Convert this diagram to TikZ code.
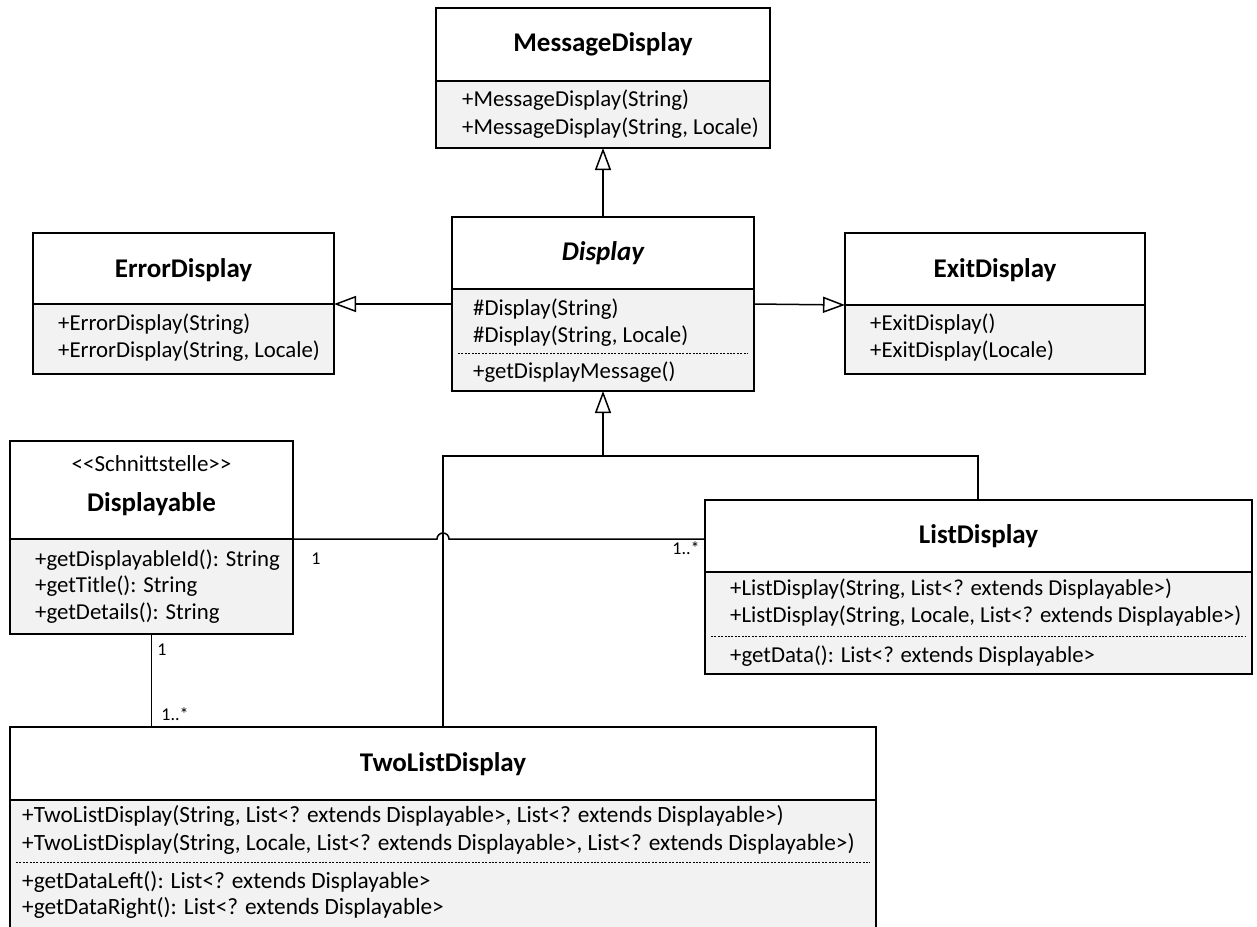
\documentclass[tikz,border=0pt]{standalone}
\usepackage{fontspec}
\setmainfont{Carlito}
\usetikzlibrary{arrows.meta}
\definecolor{boxgray}{RGB}{242,242,242}
\tikzset{
  lw/.style={line width=1.5pt},
  hdr/.style={draw, lw, fill=white, anchor=north west, inner sep=0pt, outer sep=0pt},
  bdy/.style={draw, lw, fill=boxgray, anchor=north west, inner sep=0pt, outer sep=0pt},
  ttl/.style={font=\bfseries\fontsize{27}{31}\selectfont, inner sep=0pt},
  mem/.style={anchor=west, font=\fontsize{22.8}{26}\selectfont, inner sep=0pt, text height=16pt, text depth=5pt},
  wmem/.style={mem, font=\fontsize{23.3}{26}\selectfont},
  mult/.style={font=\fontsize{18}{20}\selectfont, inner sep=0pt},
  sepline/.style={line width=1pt, dash pattern=on 2pt off 1.4pt},
  gen/.style={lw, -{Triangle[open, length=22pt, width=16pt, line width=1.5pt]}},
  assoc/.style={lw}
}
\begin{document}
\begin{tikzpicture}[x=1pt, y=-1pt]
\useasboundingbox (0,0) rectangle (1257,926);
\clip (0,0) rectangle (1257,926);

% MessageDisplay
\node[hdr, minimum width=334pt, minimum height=73pt] (mdh) at (436,8) {};
\node[bdy, minimum width=334pt, minimum height=67pt] (mdb) at (436,81) {};
\node[ttl] (mdt) at (603,44) {MessageDisplay};
\node[mem] (md1) at (462,101) {+MessageDisplay(String)};
\node[mem] (md2) at (462,129) {+MessageDisplay(String, Locale)};

% Display (abstract)
\node[hdr, minimum width=302pt, minimum height=72pt] (dsh) at (452,217) {};
\node[bdy, minimum width=302pt, minimum height=102pt] (dsb) at (452,289) {};
\node[ttl, font=\bfseries\itshape\fontsize{27}{31}\selectfont] (dst) at (603,253) {Display};
\node[mem] (ds1) at (473,310) {\#Display(String)};
\node[mem] (ds2) at (473,337) {\#Display(String, Locale)};
\draw[sepline] (458,353) -- (748,353);
\node[mem] (ds3) at (473,373) {+getDisplayMessage()};

% ErrorDisplay
\node[hdr, minimum width=301pt, minimum height=71pt] (erh) at (33,233) {};
\node[bdy, minimum width=301pt, minimum height=70pt] (erb) at (33,304) {};
\node[ttl] (ert) at (183.5,270) {ErrorDisplay};
\node[mem] (er1) at (58,325) {+ErrorDisplay(String)};
\node[mem] (er2) at (58,352) {+ErrorDisplay(String, Locale)};

% ExitDisplay
\node[hdr, minimum width=300pt, minimum height=72pt] (exh) at (845,233) {};
\node[bdy, minimum width=300pt, minimum height=69pt] (exb) at (845,305) {};
\node[ttl] (ext) at (995,270) {ExitDisplay};
\node[mem] (ex1) at (870,325) {+ExitDisplay()};
\node[mem] (ex2) at (870,352) {+ExitDisplay(Locale)};

% Displayable (interface)
\node[hdr, minimum width=283pt, minimum height=98pt] (dyh) at (10,441) {};
\node[bdy, minimum width=283pt, minimum height=95pt] (dyb) at (10,539) {};
\node[font=\fontsize{23}{26}\selectfont, inner sep=0pt] (dys) at (151.5,464) {<{}<Schnittstelle>{}>};
\node[ttl] (dyt) at (151.5,504) {Displayable};
\node[mem] (dy1) at (35,561) {+getDisplayableId(): String};
\node[mem] (dy2) at (35,587) {+getTitle(): String};
\node[mem] (dy3) at (35,614) {+getDetails(): String};

% ListDisplay
\node[hdr, minimum width=547pt, minimum height=72pt] (ldh) at (705,500) {};
\node[bdy, minimum width=547pt, minimum height=102pt] (ldb) at (705,572) {};
\node[ttl] (ldt) at (978.5,536) {ListDisplay};
\node[mem] (ld1) at (730,590) {+ListDisplay(String, List<? extends Displayable>)};
\node[mem] (ld2) at (730,617) {+ListDisplay(String, Locale, List<? extends Displayable>)};
\draw[sepline] (711,636) -- (1246,636);
\node[mem] (ld3) at (730,657) {+getData(): List<? extends Displayable>};

% TwoListDisplay
\node[hdr, minimum width=866pt, minimum height=73pt] (tlh) at (10,727) {};
\node[bdy, minimum width=866pt, minimum height=140pt] (tlb) at (10,800) {};
\node[ttl] (tlt) at (443,764) {TwoListDisplay};
\node[wmem] (tl1) at (22,817) {+TwoListDisplay(String, List<? extends Displayable>, List<? extends Displayable>)};
\node[wmem] (tl2) at (22,845) {+TwoListDisplay(String, Locale, List<? extends Displayable>, List<? extends Displayable>)};
\draw[sepline] (16,862) -- (870,862);
\node[wmem] (tl3) at (22,883) {+getDataLeft(): List<? extends Displayable>};
\node[wmem] (tl4) at (22,909) {+getDataRight(): List<? extends Displayable>};

% generalizations
\draw[gen] (dsh.north) -- (mdb.south);
\draw[gen] ([yshift=-15pt]dsb.north west) -- (erb.north east);
\draw[gen] ([yshift=-15pt]dsb.north east) -- (exb.north west);

\coordinate (tv) at (443,456);
\coordinate (lv) at (978,456);
\coordinate (jn) at (603,456);
\draw[assoc] (tv |- tlh.north) -- (tv) -- (lv) -- (lv |- ldh.north);
\draw[gen] (jn) -- (dsb.south);

% associations
\draw[assoc] (dyb.north east) -- (437,539) arc[start angle=180, end angle=0, radius=6pt] -- (dyb.north east -| ldh.west);
\draw[assoc] (dyb.south) -- (dyb.south |- tlh.north);

% multiplicities
\node[mult] (m1) at (316,559) {1};
\node[mult] (m2) at (686,548) {1..*};
\node[mult] (m3) at (162,650) {1};
\node[mult] (m4) at (175,714) {1..*};
\end{tikzpicture}
\end{document}
